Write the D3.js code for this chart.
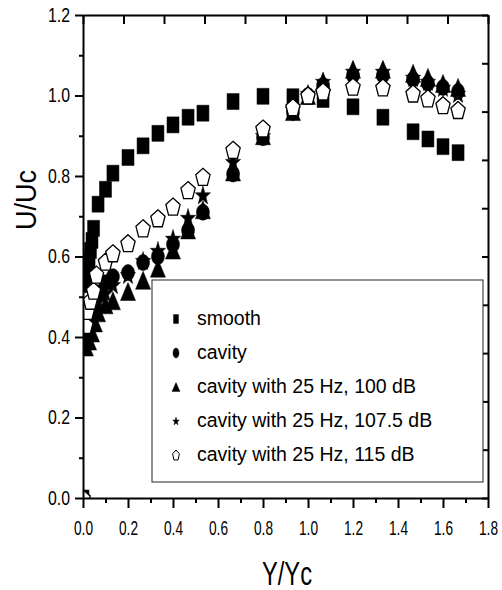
<!DOCTYPE html>
<html>
<head>
<meta charset="utf-8">
<script src="https://cdn.jsdelivr.net/npm/d3@7"></script>
<style>
  body { margin: 0; background: #fff; }
  text { font-family: "Liberation Sans", Arial, sans-serif; fill: #000; }
</style>
</head>
<body>
<svg id="chart" width="502" height="590"></svg>
<script>
// values (Y/Yc, U/Uc)
const smoothX = [0, 0.013, 0.02, 0.027, 0.033, 0.04, 0.047, 0.067, 0.1, 0.133, 0.2, 0.267, 0.333, 0.4, 0.467, 0.533, 0.667, 0.8, 0.933, 1.067, 1.2, 1.333, 1.467, 1.533, 1.6, 1.667];
const smoothY = [0, 0.53, 0.56, 0.59, 0.615, 0.64, 0.67, 0.73, 0.767, 0.807, 0.846, 0.875, 0.906, 0.927, 0.946, 0.956, 0.985, 0.998, 0.997, 0.99, 0.972, 0.946, 0.91, 0.892, 0.873, 0.858];

const cavityX = [0, 0.013, 0.027, 0.04, 0.053, 0.067, 0.1, 0.133, 0.2, 0.267, 0.333, 0.4, 0.467, 0.533, 0.667, 0.8, 0.933, 1.0, 1.067, 1.2, 1.333, 1.467, 1.533, 1.6, 1.667];
const cavityY = [0, 0.40, 0.44, 0.47, 0.49, 0.51, 0.535, 0.55, 0.56, 0.585, 0.60, 0.63, 0.665, 0.71, 0.805, 0.895, 0.958, 1.0, 1.025, 1.05, 1.05, 1.04, 1.03, 1.02, 1.01];

const forcedX = [0, 0.013, 0.027, 0.04, 0.053, 0.067, 0.1, 0.133, 0.2, 0.267, 0.333, 0.4, 0.467, 0.533, 0.667, 0.8, 0.933, 1.0, 1.067, 1.2, 1.333, 1.467, 1.533, 1.6, 1.667];
const db100Y = [0, 0.375, 0.39, 0.41, 0.435, 0.46, 0.48, 0.49, 0.513, 0.541, 0.571, 0.616, 0.666, 0.716, 0.81, 0.90, 0.96, 1.0, 1.035, 1.065, 1.065, 1.055, 1.045, 1.03, 1.02];
const db107Y = [0, 0.39, 0.42, 0.45, 0.47, 0.49, 0.51, 0.53, 0.555, 0.59, 0.615, 0.645, 0.697, 0.753, 0.836, 0.90, 0.965, 1.005, 1.035, 1.06, 1.06, 1.045, 1.035, 1.02, 1.005];

const db115X = [0, 0.013, 0.02, 0.033, 0.047, 0.06, 0.1, 0.133, 0.2, 0.267, 0.333, 0.4, 0.467, 0.533, 0.667, 0.8, 0.933, 1.0, 1.067, 1.2, 1.333, 1.467, 1.533, 1.6, 1.667];
const db115Y = [0, 0.43, 0.465, 0.49, 0.515, 0.555, 0.587, 0.608, 0.633, 0.67, 0.695, 0.724, 0.765, 0.798, 0.865, 0.918, 0.971, 1.0, 1.01, 1.022, 1.02, 1.005, 0.993, 0.976, 0.964];

const seriesNames = ['smooth', 'cavity', 'cavity with 25 Hz, 100 dB', 'cavity with 25 Hz, 107.5 dB', 'cavity with 25 Hz, 115 dB'];
const xTicks = [0, 0.2, 0.4, 0.6, 0.8, 1.0, 1.2, 1.4, 1.6, 1.8];
const yTicks = [0, 0.2, 0.4, 0.6, 0.8, 1.0, 1.2];

const svg = d3.select('#chart');
const x = d3.scaleLinear().domain([0, 1.8]).range([83, 488]);
const y = d3.scaleLinear().domain([0, 1.2]).range([498, 15]);
// top and right axes carry their own 10-step ticks in the original
const xTop = d3.scaleLinear().domain([0, 1]).range([83, 488]);
const yRight = d3.scaleLinear().domain([0, 1]).range([498, 15]);

/**
 * Builds a marker path centred on 0,0 with the given box size
 */
function shapePath(kind, w, h) {
  const p = d3.path();
  const a = w / 2, b = h / 2;
  if (kind === 'square') {
    p.rect(-a, -b, w, h);
  } else if (kind === 'circle') {
    p.ellipse ? p.ellipse(0, 0, a, b, 0, 0, 2 * Math.PI) : null;
    if (!p.ellipse) {
      const n = 24;
      for (let i = 0; i <= n; i++) {
        const t = i / n * 2 * Math.PI;
        i ? p.lineTo(a * Math.cos(t), b * Math.sin(t)) : p.moveTo(a, 0);
      }
    }
  } else if (kind === 'triangle') {
    p.moveTo(0, -b); p.lineTo(a, b); p.lineTo(-a, b);
  } else if (kind === 'star' || kind === 'pentagon') {
    const n = kind === 'star' ? 10 : 5;
    const off = 0.095; // centre the 5-fold shapes in their box
    for (let i = 0; i < n; i++) {
      const r = kind === 'star' && i % 2 ? 0.4 : 1;
      const t = -Math.PI / 2 + i * 2 * Math.PI / n;
      const px = a * r * Math.cos(t), py = b * (r * Math.sin(t) + off) / 0.905;
      i ? p.lineTo(px, py) : p.moveTo(px, py);
    }
  }
  p.closePath();
  return p.toString();
}

const series = [
  { name: seriesNames[0], xs: smoothX, ys: smoothY, kind: 'square', w: 12, h: 16, fill: '#000' },
  { name: seriesNames[1], xs: cavityX, ys: cavityY, kind: 'circle', w: 13, h: 16, fill: '#000' },
  { name: seriesNames[2], xs: forcedX, ys: db100Y, kind: 'triangle', w: 15, h: 18, fill: '#000' },
  { name: seriesNames[3], xs: forcedX, ys: db107Y, kind: 'star', w: 16, h: 18, fill: '#000' },
  { name: seriesNames[4], xs: db115X, ys: db115Y, kind: 'pentagon', w: 15, h: 17, fill: '#fff' }
];

svg.append('clipPath').attr('id', 'plot-clip')
  .append('rect')
  .attr('x', x(0)).attr('y', y(1.2))
  .attr('width', x(1.8) - x(0)).attr('height', y(0) - y(1.2));

const marks = svg.append('g').attr('clip-path', 'url(#plot-clip)');
series.forEach(s => {
  marks.append('g')
    .selectAll('path')
    .data(s.xs.map((v, i) => [v, s.ys[i]]))
    .join('path')
    .attr('transform', d => `translate(${x(d[0])},${y(d[1])})`)
    .attr('d', shapePath(s.kind, s.w, s.h))
    .attr('fill', s.fill)
    .attr('stroke', '#000')
    .attr('stroke-width', s.fill === '#fff' ? 1.3 : 0.5);
});

// minor ticks
svg.append('g')
  .attr('transform', `translate(0,${y(0)})`)
  .call(d3.axisBottom(x).tickValues(d3.range(0.1, 1.8, 0.2)).tickSize(5).tickFormat(''))
  .call(g => g.select('.domain').remove())
  .selectAll('line').attr('stroke-width', 2);
svg.append('g')
  .attr('transform', `translate(${x(0)},0)`)
  .call(d3.axisLeft(y).tickValues(d3.range(0.1, 1.2, 0.2)).tickSize(4).tickFormat(''))
  .call(g => g.select('.domain').remove())
  .selectAll('line').attr('stroke-width', 2);

// top and right: inward ticks, no labels
svg.append('g')
  .attr('transform', `translate(0,${y(1.2)})`)
  .call(d3.axisTop(xTop).ticks(10).tickSizeInner(-9).tickSizeOuter(0).tickFormat(''))
  .call(g => g.select('.domain').attr('stroke-width', 2))
  .selectAll('line').attr('stroke-width', 2);
svg.append('g')
  .attr('transform', `translate(${x(1.8)},0)`)
  .call(d3.axisRight(yRight).ticks(10).tickSizeInner(-6).tickSizeOuter(0).tickFormat(''))
  .call(g => g.select('.domain').attr('stroke-width', 2))
  .selectAll('line').attr('stroke-width', 2);

// bottom axis
const xAxis = svg.append('g')
  .attr('transform', `translate(0,${y(0)})`)
  .call(d3.axisBottom(x).tickValues(xTicks).tickSize(10).tickSizeOuter(0).tickFormat(d3.format('.1f')));
xAxis.select('.domain').attr('stroke-width', 2);
xAxis.selectAll('line').attr('stroke-width', 2);
xAxis.selectAll('text')
  .attr('y', 37).attr('dy', 0)
  .attr('font-size', 20)
  .attr('textLength', 19).attr('lengthAdjust', 'spacingAndGlyphs');

// left axis
const yAxis = svg.append('g')
  .attr('transform', `translate(${x(0)},0)`)
  .call(d3.axisLeft(y).tickValues(yTicks).tickSize(8).tickPadding(5).tickSizeOuter(0).tickFormat(d3.format('.1f')));
yAxis.select('.domain').attr('stroke-width', 2);
yAxis.selectAll('line').attr('stroke-width', 2);
yAxis.selectAll('text')
  .attr('font-size', 20)
  .attr('textLength', 22).attr('lengthAdjust', 'spacingAndGlyphs');

// axis titles
svg.append('text')
  .attr('x', 287).attr('y', 585)
  .attr('text-anchor', 'middle')
  .attr('font-size', 33)
  .attr('textLength', 50).attr('lengthAdjust', 'spacingAndGlyphs')
  .text('Y/Yc');
svg.append('text')
  .attr('transform', 'translate(36,200) rotate(-90)')
  .attr('text-anchor', 'middle')
  .attr('font-size', 30)
  .attr('textLength', 60).attr('lengthAdjust', 'spacingAndGlyphs')
  .text('U/Uc');

// legend
const legend = svg.append('g');
legend.append('rect')
  .attr('x', 152).attr('y', 280).attr('width', 331).attr('height', 202)
  .attr('fill', '#fff').attr('stroke', '#222').attr('stroke-width', 1);
const legendSizes = [[5, 9], [6, 10], [8, 9], [7, 8], [7, 10]];
series.forEach((s, i) => {
  const base = 325 + i * 34;
  legend.append('path')
    .attr('transform', `translate(176,${base - 6})`)
    .attr('d', shapePath(s.kind, legendSizes[i][0], legendSizes[i][1]))
    .attr('fill', s.fill).attr('stroke', '#000').attr('stroke-width', s.fill === '#fff' ? 1 : 0.4);
  legend.append('text')
    .attr('x', 197).attr('y', base)
    .attr('font-size', 19.5)
    .text(s.name);
});
</script>
</body>
</html>
